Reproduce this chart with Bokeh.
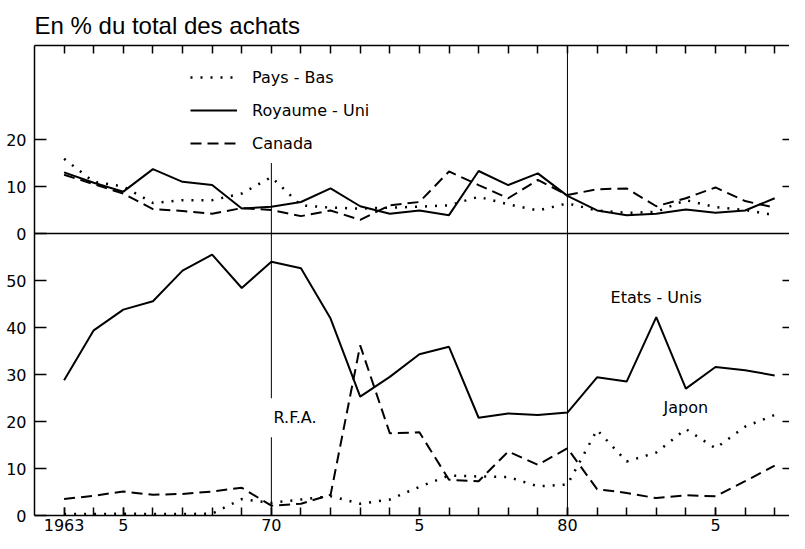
from bokeh.plotting import figure
from bokeh.models import (LinearAxis, Range1d, FixedTicker, Legend, LegendItem,
                          Label)
from bokeh.embed import file_html
from bokeh.resources import INLINE

# ---------------- data ----------------
years = list(range(1963, 1988))

# top panel (En % du total des achats)
pays_bas = [15.9, 11.0, 10.0, 6.5, 7.1, 7.1, 8.5, 12.0, 6.0, 5.5, 5.3, 5.5, 5.7,
            6.0, 7.8, 6.2, 4.9, 6.4, 4.9, 4.4, 4.6, 7.1, 5.6, 5.0, 3.9]
royaume_uni = [13.0, 10.8, 8.9, 13.7, 11.0, 10.3, 5.3, 5.7, 6.7, 9.6, 5.8, 4.2,
               4.9, 3.9, 13.3, 10.3, 12.8, 8.0, 4.9, 3.9, 4.2, 5.1, 4.4, 4.9, 7.5]
canada = [12.5, 10.5, 8.5, 5.2, 4.8, 4.2, 5.4, 5.0, 3.7, 4.9, 2.9, 6.0, 6.7,
          13.2, 10.3, 7.5, 11.4, 8.2, 9.4, 9.6, 5.8, 7.5, 9.8, 6.9, 5.5]

# bottom panel
etats_unis = [28.8, 39.4, 43.8, 45.6, 52.1, 55.5, 48.4, 54.0, 52.6, 41.9, 25.3,
              29.5, 34.3, 35.9, 20.8, 21.7, 21.4, 21.9, 29.4, 28.5, 42.2, 27.0,
              31.6, 30.9, 29.8]
rfa = [3.5, 4.2, 5.1, 4.4, 4.6, 5.1, 5.9, 2.1, 2.5, 4.4, 36.2, 17.5, 17.7, 7.6,
       7.3, 13.6, 10.8, 14.3, 5.6, 4.8, 3.7, 4.3, 4.1, 7.3, 10.6]
japon = [0.3, 0.3, 0.4, 0.3, 0.3, 0.4, 3.5, 2.7, 3.4, 4.1, 2.5, 3.4, 6.1, 8.5,
         8.3, 8.2, 6.2, 6.6, 18.2, 11.5, 13.4, 18.4, 14.3, 18.9, 21.4]

x_tick_labels = {1963: "1963", 1965: "5", 1970: "70", 1975: "5", 1980: "80", 1985: "5"}
# left axis: bottom panel 0..50, top panel 0..20 (top panel sits on 60..100)
y_tick_labels = {0: "0", 10: "10", 20: "20", 30: "30", 40: "40", 50: "50",
                 60: "0", 70: "10", 80: "20"}
right_ticks = [10, 20, 30, 40, 50, 70, 80]

ref_years = [1970, 1980]
ref_tops = [75, 100]

title_text = "En % du total des achats"

# ---------------- figure ----------------
FONT = "DejaVu Sans"
p = figure(width=789, height=533, output_backend="svg", toolbar_location=None,
           x_range=Range1d(1962, 1987.5), y_range=Range1d(0, 100),
           min_border_left=34, min_border_right=0, min_border_top=45,
           min_border_bottom=16, x_axis_location=None, y_axis_location=None)
p.extra_y_ranges = {"top": Range1d(-60, 40)}
p.grid.visible = False
p.outline_line_color = None
p.background_fill_color = "white"

p.title.text = title_text
p.title.text_font = "Liberation Sans"
p.title.text_font_size = "24px"
p.title.text_font_style = "normal"
p.title.text_color = "black"
p.title.align = "left"
p.title.offset = 0
p.title.standoff = 13

labeled = list(x_tick_labels.keys())
below = LinearAxis(ticker=FixedTicker(ticks=labeled, minor_ticks=years),
                   major_label_overrides=x_tick_labels)
above = LinearAxis(ticker=FixedTicker(ticks=[], minor_ticks=years))
for ax in (below, above):
    ax.major_tick_in = 8
    ax.major_tick_out = 0
    ax.minor_tick_in = 8
    ax.minor_tick_out = 0
    ax.axis_line_width = 1.5
    ax.major_tick_line_width = 1.5
    ax.minor_tick_line_width = 1.5
    ax.axis_line_color = "black"
    ax.major_tick_line_color = "black"
    ax.minor_tick_line_color = "black"
below.major_label_text_font = FONT
below.major_label_text_font_size = "16px"
below.major_label_standoff = 3
below.major_label_text_color = "black"
above.major_label_standoff = 0
p.add_layout(below, "below")
p.add_layout(above, "above")

yt = FixedTicker(ticks=list(y_tick_labels.keys()), minor_ticks=[])
left = LinearAxis(ticker=yt, major_label_overrides=y_tick_labels)
left.major_tick_in = 12
left.major_tick_out = 0
left.minor_tick_line_color = None
left.axis_line_width = 1.5
left.major_tick_line_width = 1.5
left.major_label_text_font = FONT
left.major_label_text_font_size = "16px"
left.major_label_standoff = 8
left.major_label_text_color = "black"
p.add_layout(left, "left")

right = LinearAxis(ticker=FixedTicker(ticks=[], minor_ticks=right_ticks))
right.axis_line_color = None
right.major_tick_line_color = None
right.minor_tick_in = 7
right.minor_tick_out = 0
right.minor_tick_line_width = 1.5
right.minor_tick_line_color = "black"
right.major_label_standoff = 0
p.add_layout(right, "right")

# reference verticals + separator
p.segment(x0=ref_years, y0=[0, 0], x1=ref_years, y1=ref_tops,
          line_color="black", line_width=1, level="underlay")
p.segment(x0=[1962], y0=[60], x1=[1987.5], y1=[60], line_color="black",
          line_width=1.5, level="underlay")

rfa_label = Label(x=1970.8, y=20.8, text="R.F.A.", text_align="center",
                  text_baseline="middle", text_font=FONT, text_font_size="16px",
                  text_color="black",
                  background_fill_color="white", padding=10, level="underlay")
p.add_layout(rfa_label)

DOT = "2 8"
DASH = "11 6"
LW = 2

# top panel series
r_pb = p.line(years, pays_bas, y_range_name="top", line_color="black",
              line_width=2.5, line_dash=DOT)
r_ru = p.line(years, royaume_uni, y_range_name="top", line_color="black",
              line_width=LW)
r_ca = p.line(years, canada, y_range_name="top", line_color="black",
              line_width=LW, line_dash=DASH)

# bottom panel series
p.line(years, etats_unis, line_color="black", line_width=LW)
p.line(years, rfa, line_color="black", line_width=LW, line_dash=DASH)
p.line(years, japon, line_color="black", line_width=2.5, line_dash=DOT)

p.add_layout(Label(x=1983.0, y=46.4, text="Etats - Unis", text_align="center",
                   text_baseline="middle", text_font=FONT, text_font_size="16px",
                   text_color="black"))
p.add_layout(Label(x=1984.0, y=22.9, text="Japon", text_align="center",
                   text_baseline="middle", text_font=FONT, text_font_size="16px",
                   text_color="black"))

legend = Legend(items=[LegendItem(label="Pays - Bas", renderers=[r_pb]),
                       LegendItem(label="Royaume - Uni", renderers=[r_ru]),
                       LegendItem(label="Canada", renderers=[r_ca])],
                location=(156, 362), orientation="vertical",
                glyph_width=47, glyph_height=20, label_height=20, spacing=13,
                padding=0, margin=0, label_standoff=15,
                border_line_color=None, background_fill_alpha=0,
                label_text_font=FONT, label_text_font_size="16px",
                label_text_color="black")
p.add_layout(legend)

open("out.html", "w").write(file_html(p, INLINE))
